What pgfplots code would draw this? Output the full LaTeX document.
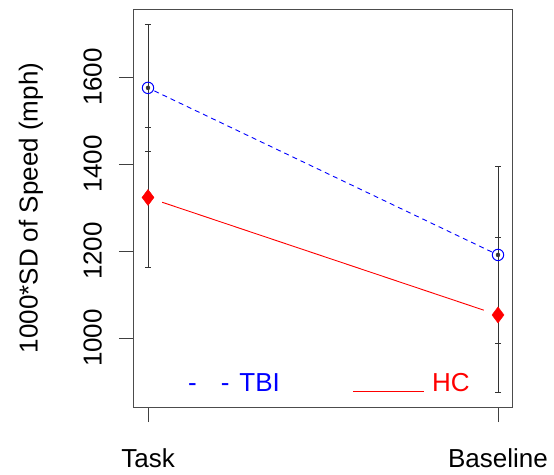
\documentclass[border=0pt]{standalone}
\usepackage{fontspec}
\setmainfont{Liberation Sans}
\usepackage{pgfplots}
\pgfplotsset{compat=1.18}
\begin{document}
\fontsize{26}{30}\selectfont
\begin{tikzpicture}
\begin{axis}[
  name=ax,
  scale only axis, width=378pt, height=398pt,
  at={(0,0)}, anchor=south west,
  xmin=0.96, xmax=2.04, ymin=841.4, ymax=1756.3,
  xtick={1,2}, xticklabels={Task,Baseline},
  ytick={1000,1200,1400,1600},
  minor tick num=0,
  tick align=outside, tickwidth=15pt,
  major tick style={draw=black!75, line width=0.9pt},
  axis line style={black!70, line width=1pt},
  xtick pos=left, ytick pos=left,
  /pgf/number format/assume math mode=true,
  /pgf/number format/1000 sep={},
  tick label style={font=\fontsize{26}{30}\selectfont},
  yticklabel style={rotate=90, anchor=south, inner sep=0pt},
  xticklabel style={anchor=base, inner sep=0pt},
  xticklabel shift=45pt,
  yticklabel shift=17pt,
  ylabel={1000*SD of Speed (mph)},
  ylabel style={at={(axis description cs:-0.273,0.5)}, anchor=center, font=\fontsize{26}{30}\selectfont},
  clip=false,
]
% error bars
\addplot[only marks, mark=none, black!80,
  error bars/.cd, y dir=both, y explicit,
  error bar style={line width=0.8pt, black!80},
  error mark options={rotate=90, mark size=3pt, line width=0.8pt, black!80}]
  coordinates {(1,1575) +- (0,147) (2,1191) +- (0,204)};
\addplot[only marks, mark=none, black!80,
  error bars/.cd, y dir=both, y explicit,
  error bar style={line width=0.8pt, black!80},
  error mark options={rotate=90, mark size=3pt, line width=0.8pt, black!80}]
  coordinates {(1,1323) +- (0,160) (2,1053) +- (0,179)};
% lines
\addplot[blue, line width=0.9pt, dash pattern=on 5pt off 4pt, shorten <=7pt, shorten >=7pt, mark=none]
  coordinates {(1,1575) (2,1191)};
\addplot[red, line width=0.9pt, shorten <=15pt, shorten >=15pt, mark=none]
  coordinates {(1,1323) (2,1053)};
% markers
\addplot[only marks, blue, mark=o, mark size=5.7pt, mark options={line width=1pt}]
  coordinates {(1,1575) (2,1191)};
\addplot[only marks, red, mark=diamond*, mark size=8pt, mark options={fill=red, draw=red}]
  coordinates {(1,1323) (2,1053)};
% legend text
\node[anchor=base west, text=blue, inner sep=0pt] at (axis cs:1.114,875.9) {-\hspace{24pt}-\hspace{10pt}TBI};
\node[anchor=base west, text=red, inner sep=0pt] at (axis cs:1.5857,875.9) {\rule{71pt}{1.2pt}\hspace{8pt}HC};
\end{axis}
\pgfresetboundingbox
\path (-134pt,-67pt) rectangle (420pt,407pt);
\end{tikzpicture}
\end{document}
